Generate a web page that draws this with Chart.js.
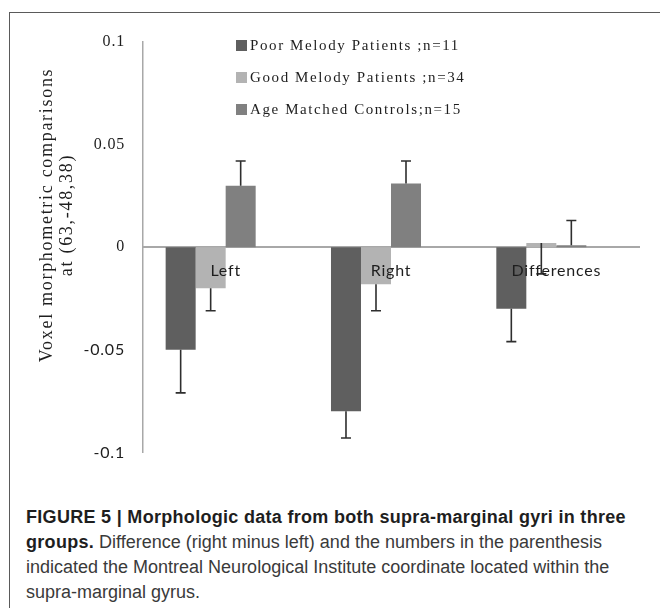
<!DOCTYPE html>
<html>
<head>
<meta charset="utf-8">
<script src="https://cdn.jsdelivr.net/npm/chart.js@4"></script>
<style>
  html, body { margin: 0; padding: 0; background: #fff; width: 660px; height: 608px; overflow: hidden; }
  #frame { position: absolute; left: 9px; top: 12px; width: 720px; height: 720px;
           border-left: 1.5px solid #5a5a5a; border-top: 1.5px solid #5a5a5a; }
  #chart { position: absolute; left: 0; top: 0; }
  #caption { position: absolute; left: 26px; top: 505px; white-space: nowrap;
             font-family: "Liberation Sans", Arial, sans-serif; font-size: 18px; line-height: 25px; color: #3a3a3a; }
  #caption b { color: #1e1e1e; letter-spacing: 0.3px; }
</style>
</head>
<body>
<div id="frame"></div>
<canvas id="chart" width="660" height="480"></canvas>
<div id="caption"><b>FIGURE 5 | Morphologic data from both supra-marginal gyri in three<br>groups.</b> Difference (right minus left) and the numbers in the parenthesis<br>indicated the Montreal Neurological Institute coordinate located within the<br>supra-marginal gyrus.</div>
<script>
// Groups along the category axis
const categories = ['Left', 'Right', 'Differences'];

// Series names (legend)
const seriesNames = ['Poor Melody Patients ;n=11', 'Good Melody Patients ;n=34', 'Age Matched Controls;n=15'];

// Mean voxel values per group
const poorMelody = [-0.050, -0.080, -0.030];
const goodMelody = [-0.020, -0.018, 0.002];
const ageMatched = [0.030, 0.031, 0.001];

// Signed error-bar lengths, drawn from the end of each bar
const poorErr = [-0.021, -0.013, -0.016];
const goodErr = [-0.011, -0.013, -0.015];
const ageErr  = [0.012, 0.011, 0.012];

// Value-axis ticks and title
const yTicks = [-0.1, -0.05, 0, 0.05, 0.1];
const yTitle = ['Voxel morphometric comparisons', 'at (63,-48,38)'];

const seriesColors = ['#5f5f5f', '#b3b3b3', '#808080'];

const SERIF = '"Liberation Serif", "Times New Roman", serif';
const SANS = 'Lato, "Open Sans", sans-serif';

// Error whiskers with a cap at the far end
const errorBars = {
  id: 'errorBars',
  afterDatasetsDraw(chart) {
    const ctx = chart.ctx;
    const y = chart.scales.y;
    ctx.save();
    ctx.strokeStyle = '#2e2e2e';
    ctx.lineWidth = 1.6;
    chart.data.datasets.forEach((ds, i) => {
      if (!ds.errors) return;
      chart.getDatasetMeta(i).data.forEach((bar, j) => {
        const v = ds.data[j];
        if (v == null) return;
        const y0 = y.getPixelForValue(v);
        const y1 = y.getPixelForValue(v + ds.errors[j]);
        ctx.beginPath();
        ctx.moveTo(bar.x, y0);
        ctx.lineTo(bar.x, y1);
        ctx.moveTo(bar.x - 5, y1);
        ctx.lineTo(bar.x + 5, y1);
        ctx.stroke();
      });
    });
    ctx.restore();
  }
};

// Letter spacing used by the axis labels
const spacing = {
  id: 'spacing',
  beforeDraw(chart) { chart.ctx.letterSpacing = '0.8px'; }
};

// Inset legend and two-line rotated value-axis title
const annotations = {
  id: 'annotations',
  afterDraw(chart) {
    const ctx = chart.ctx;
    ctx.save();
    ctx.letterSpacing = '1.6px';
    ctx.font = '15px ' + SERIF;
    ctx.textBaseline = 'middle';
    ctx.textAlign = 'left';
    chart.data.datasets.forEach((ds, i) => {
      if (!ds.label) return;
      const ry = 45 + i * 32;
      ctx.fillStyle = ds.backgroundColor;
      ctx.fillRect(236, ry - 5, 11, 11);
      ctx.fillStyle = '#1e1e1e';
      ctx.fillText(ds.label, 250, ry + 1);
    });

    ctx.letterSpacing = '1.7px';
    ctx.font = '18px ' + SERIF;
    ctx.textAlign = 'center';
    ctx.translate(57, 215);
    ctx.rotate(-Math.PI / 2);
    yTitle.forEach((line, k) => ctx.fillText(line, 0, -10 + k * 20));
    ctx.restore();
  }
};

new Chart(document.getElementById('chart'), {
  type: 'bar',
  data: {
    labels: categories,
    datasets: [
      { label: seriesNames[0], data: poorMelody, errors: poorErr, backgroundColor: seriesColors[0] },
      { label: seriesNames[1], data: goodMelody, errors: goodErr, backgroundColor: seriesColors[1] },
      { label: seriesNames[2], data: ageMatched, errors: ageErr, backgroundColor: seriesColors[2] },
      // unused fourth slot in each group
      { label: '', data: categories.map(() => null), backgroundColor: 'rgba(0,0,0,0)' }
    ]
  },
  options: {
    responsive: false,
    animation: false,
    devicePixelRatio: 1,
    layout: { padding: { left: 0, right: 21, top: 42, bottom: 16 } },
    datasets: { bar: { categoryPercentage: 0.726, barPercentage: 1 } },
    plugins: { legend: { display: false }, tooltip: { enabled: false } },
    scales: {
      x: {
        type: 'category',
        position: { y: 0 },
        offset: true,
        grid: { display: false, drawTicks: false },
        border: { color: '#a8a8a8', width: 2 },
        ticks: { z: 1, color: '#1e1e1e', padding: 14, font: { family: SANS, size: 16 } }
      },
      y: {
        min: -0.1,
        max: 0.1,
        afterBuildTicks(scale) { scale.ticks = yTicks.map(v => ({ value: v })); },
        afterFit(scale) { scale.width = 143; },
        grid: { display: false, drawTicks: false },
        border: { color: '#a8a8a8', width: 1.5 },
        ticks: {
          color: '#1e1e1e',
          padding: 18,
          callback: v => String(v),
          font: c => (c.tick && c.tick.value < 0)
            ? { family: SANS, size: 16 }
            : { family: SERIF, size: 16 }
        }
      }
    }
  },
  plugins: [spacing, errorBars, annotations]
});
</script>
</body>
</html>
